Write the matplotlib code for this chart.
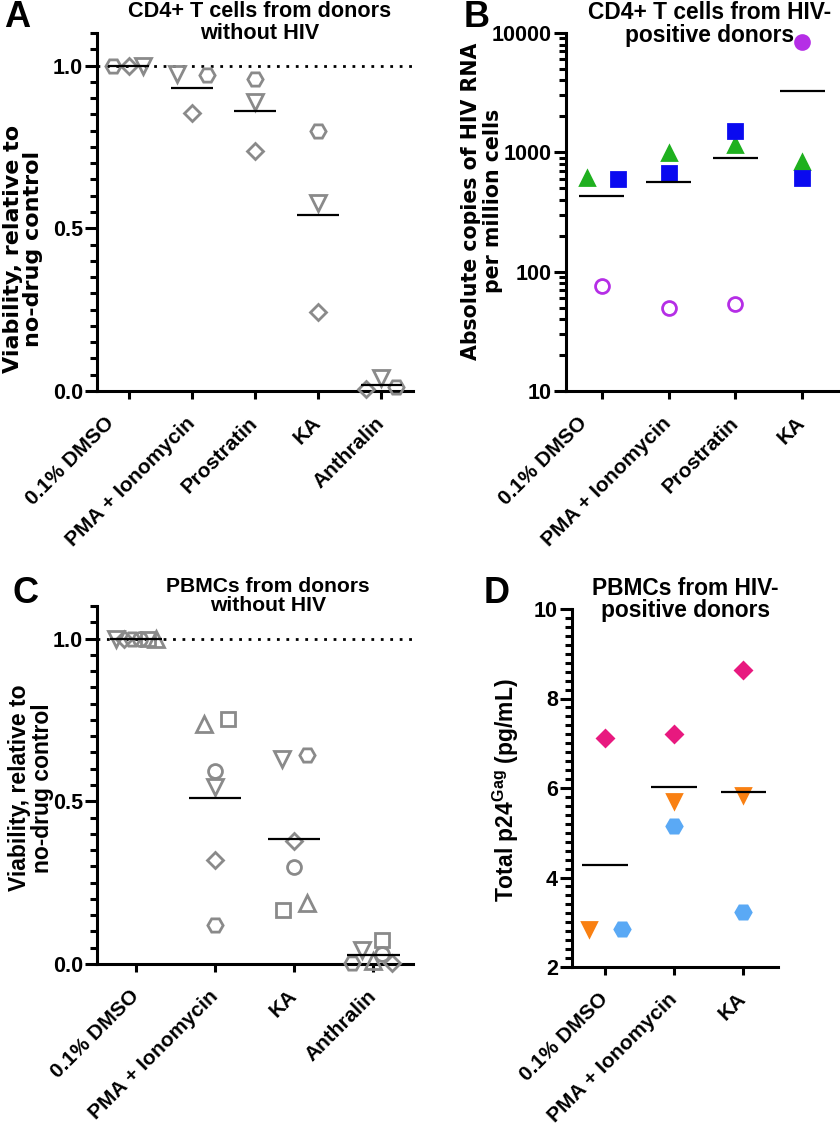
import numpy as np
import matplotlib
matplotlib.use("Agg")
import matplotlib.pyplot as plt
from matplotlib.ticker import MultipleLocator, LogLocator, NullFormatter, FixedLocator
from matplotlib.transforms import ScaledTranslation

plt.rcParams['font.family'] = ['Liberation Sans', 'DejaVu Sans']
plt.rcParams['font.weight'] = 'bold'
plt.rcParams['mathtext.fontset'] = 'custom'
plt.rcParams['mathtext.rm'] = 'Liberation Sans:bold'
plt.rcParams['mathtext.bf'] = 'Liberation Sans:bold'

# --- Panel A: CD4+ T cells, donors without HIV (viability) ---
a_groups = ["0.1% DMSO", "PMA + Ionomycin", "Prostratin", "KA", "Anthralin"]
a_hex = [1.0, 0.970, 0.958, 0.800, 0.013]
a_diamond = [1.0, 0.853, 0.736, 0.243, 0.006]
a_tri = [1.0, 0.974, 0.889, 0.578, 0.040]

# --- Panel B: CD4+ T cells, HIV-positive donors (RNA copies) ---
b_groups = ["0.1% DMSO", "PMA + Ionomycin", "Prostratin", "KA"]
b_tri = [612, 980, 1143, 825]
b_square = [594, 667, 1507, 605]
b_circle = [76, 50, 54, 8460]

# --- Panel C: PBMCs, donors without HIV (viability) ---
c_groups = ["0.1% DMSO", "PMA + Ionomycin", "KA", "Anthralin"]
c_tri_down = [1.0, 0.545, 0.629, 0.044]
c_diamond = [1.0, 0.319, 0.377, 0.004]
c_hex = [1.0, 0.119, 0.642, 0.004]
c_circle = [1.0, 0.593, 0.298, 0.030]
c_square = [1.0, 0.752, 0.167, 0.075]
c_tri_up = [1.0, 0.736, 0.186, 0.010]

# --- Panel D: PBMCs, HIV-positive donors (p24) ---
d_groups = ["0.1% DMSO", "PMA + Ionomycin", "KA"]
d_diamond = [7.11, 7.21, 8.64]
d_tri = [2.85, 5.72, 5.85]
d_hex = [2.85, 5.14, 3.24]

GRAY = "#8a8a8a"
TICK_FS = 15.5
LW = 2.2


def style_axes(ax, labels, xlim, shift_first=False):
    ax.spines['top'].set_visible(False)
    ax.spines['right'].set_visible(False)
    for s in ('left', 'bottom'):
        ax.spines[s].set_linewidth(LW)
    ax.set_xlim(*xlim)
    ax.set_xticks(range(len(labels)))
    ax.set_xticklabels(labels, rotation=45, ha='right', va='center',
                       rotation_mode='anchor', fontsize=15, fontweight='bold')
    ax.tick_params(axis='y', which='major', length=8.5, width=LW,
                   labelsize=TICK_FS, pad=1.5)
    ax.tick_params(axis='x', which='major', length=5.5, width=LW, pad=15.5)
    ax.tick_params(axis='y', which='minor', length=5, width=LW)
    for lab in ax.get_yticklabels():
        lab.set_fontweight('bold')
    if shift_first:
        lab = ax.get_xticklabels()[0]
        lab.set_transform(lab.get_transform() +
                          ScaledTranslation(-0.17, 0, fig.dpi_scale_trans))


def draw_points(ax, series, offsets, markers, colors, sizes, fills):
    for vals, offs, m, c, ms, fl in zip(series, offsets, markers, colors, sizes, fills):
        for i, (v, o) in enumerate(zip(vals, offs)):
            face = c if fl[i] else 'none'
            ax.plot(i + o, v, marker=m, ms=ms, mec=c, mfc=face, mew=2.0,
                    ls='none', zorder=3, clip_on=False)


def draw_means(ax, series):
    means = np.mean(np.array(series, dtype=float), axis=0)
    for i, m in enumerate(means):
        ax.hlines(m, i - 0.33, i + 0.33, color='black', lw=1.6, zorder=4)


fig = plt.figure(figsize=(8.4, 11.25), dpi=100)
W, H = 840, 1125


def add_ax(l, t, r, b):
    return fig.add_axes([l / W, 1 - b / H, (r - l) / W, (b - t) / H])


# ---------------- A ----------------
ax = add_ax(97, 33, 413, 391)
a_series = [a_hex, a_diamond, a_tri]
a_offsets = [[-0.24, 0.24, 0, 0, 0.23],
             [0, 0, 0, 0, -0.24],
             [0.23, -0.24, 0, 0, 0]]
draw_points(ax, a_series, a_offsets, ['H', 'D', 'v'], [GRAY] * 3,
            [11, 8, 11], [[False] * 5] * 3)
draw_means(ax, a_series)
ax.axhline(1.0, color='black', lw=2, ls=(0, (1, 2.4)), zorder=2)
ax.set_ylim(0, 1.1)
ax.yaxis.set_major_locator(FixedLocator([0, 0.5, 1.0]))
ax.yaxis.set_minor_locator(MultipleLocator(0.05))
ax.set_yticklabels(['0.0', '0.5', '1.0'])
style_axes(ax, a_groups, (-0.5, 4.5), shift_first=True)
ax.text(0.516, 1.09, "CD4+ T cells from donors\nwithout HIV", transform=ax.transAxes,
        ha='center', va='top', fontsize=15.6, fontweight='bold', linespacing=1.1)

# ---------------- B ----------------
ax = add_ax(566, 33, 838, 391)
b_series = [b_tri, b_square, b_circle]
b_offsets = [[-0.22, 0, 0, 0], [0.25, 0, 0, 0], [0, 0, 0, 0]]
draw_points(ax, b_series, b_offsets, ['^', 's', 'o'],
            ['#1fb01f', '#0a0af0', '#b52ee6'], [10.5, 10, 10],
            [[True] * 4, [True] * 4, [False, False, False, True]])
draw_means(ax, b_series)
ax.set_yscale('log')
ax.set_ylim(10, 10000)
ax.yaxis.set_major_locator(FixedLocator([10, 100, 1000, 10000]))
ax.yaxis.set_minor_locator(LogLocator(base=10, subs=np.arange(2, 10)))
ax.yaxis.set_minor_formatter(NullFormatter())
ax.set_yticklabels(['10', '100', '1000', '10000'])
style_axes(ax, b_groups, (-0.53, 3.53), shift_first=True)
ax.text(0.526, 1.09, "CD4+ T cells from HIV-\npositive donors", transform=ax.transAxes,
        ha='center', va='top', fontsize=16.4, fontweight='bold', linespacing=1.0)

# ---------------- C ----------------
ax = add_ax(97, 606, 413, 964)
c_series = [c_tri_down, c_diamond, c_hex, c_circle, c_square, c_tri_up]
c_offsets = [[-0.25, 0, -0.15, -0.14],
             [-0.15, 0, 0, 0.24],
             [-0.05, 0, 0.16, -0.27],
             [0.05, 0, 0, 0.11],
             [0.15, 0.16, -0.14, 0.11],
             [0.25, -0.14, 0.16, 0]]
draw_points(ax, c_series, c_offsets, ['v', 'D', 'H', 'o', 's', '^'], [GRAY] * 6,
            [11, 8, 11, 10, 10, 11], [[False] * 4] * 6)
draw_means(ax, c_series)
ax.axhline(1.0, color='black', lw=2, ls=(0, (1, 2.4)), zorder=2)
ax.set_ylim(0, 1.1)
ax.yaxis.set_major_locator(FixedLocator([0, 0.5, 1.0]))
ax.yaxis.set_minor_locator(MultipleLocator(0.05))
ax.set_yticklabels(['0.0', '0.5', '1.0'])
style_axes(ax, c_groups, (-0.49, 3.5))
ax.text(0.541, 1.08, "PBMCs from donors\nwithout HIV", transform=ax.transAxes,
        ha='center', va='top', fontsize=15.2, fontweight='bold', linespacing=1.0)

# ---------------- D ----------------
ax = add_ax(572, 609, 778, 967)
d_series = [d_diamond, d_tri, d_hex]
d_offsets = [[0, 0, 0], [-0.24, 0, 0], [0.24, 0, 0]]
draw_points(ax, d_series, d_offsets, ['D', 'v', 'H'],
            ['#e8197f', '#f98012', '#5aa9f5'], [8, 10, 11],
            [[True] * 3] * 3)
draw_means(ax, d_series)
ax.set_ylim(2, 10)
ax.yaxis.set_major_locator(MultipleLocator(2))
ax.yaxis.set_minor_locator(MultipleLocator(0.2))
style_axes(ax, d_groups, (-0.48, 2.5))
ax.text(0.549, 1.09, "PBMCs from HIV-\npositive donors", transform=ax.transAxes,
        ha='center', va='top', fontsize=16.4, fontweight='bold', linespacing=0.95)

# --- y labels ---
fig.text(23 / W, 1 - 249 / H, "Viability, relative to\nno-drug control", rotation=90,
         ha='center', va='center', fontsize=16, fontweight='bold',
         family='DejaVu Sans', linespacing=1.05)
fig.text(482 / W, 1 - 201 / H, "Absolute copies of HIV RNA\nper million cells", rotation=90,
         ha='center', va='center', fontsize=14.8, fontweight='bold',
         family='DejaVu Sans', linespacing=1.12)
fig.text(31 / W, 1 - 788 / H, "Viability, relative to\nno-drug control", rotation=90,
         ha='center', va='center', fontsize=16.5, fontweight='bold', linespacing=1.05)
fig.text(506 / W, 1 - 790 / H, r"Total p24$^{\rm Gag}$ (pg/mL)", rotation=90,
         ha='center', va='center', fontsize=16.5, fontweight='bold')

# --- panel letters ---
for letter, x, y in [("A", 4, 0), ("B", 464, 0), ("C", 12, 576), ("D", 484, 576)]:
    fig.text(x / W, 1 - y / H, letter, ha='left', va='top', fontsize=26, fontweight='bold')

fig.savefig("out.png", dpi=100)
